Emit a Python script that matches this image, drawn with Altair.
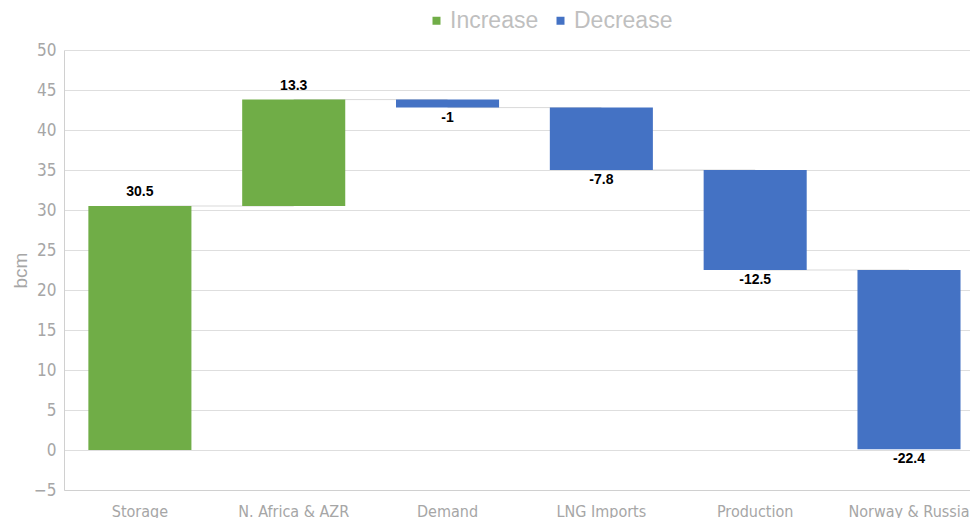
import altair as alt
import pandas as pd

categories = ["Storage", "N. Africa & AZR", "Demand", "LNG Imports", "Production", "Norway & Russia"]
changes = [30.5, 13.3, -1, -7.8, -12.5, -22.4]
labels = ["30.5", "13.3", "-1", "-7.8", "-12.5", "-22.4"]
yticks = [-5, 0, 5, 10, 15, 20, 25, 30, 35, 40, 45, 50]

rows = []
total = 0.0
for i, (c, v, l) in enumerate(zip(categories, changes, labels)):
    start = total
    total = round(total + v, 2)
    rows.append({
        "cat": c, "start": start, "end": total, "label": l,
        "kind": "Increase" if v >= 0 else "Decrease",
        "next": categories[i + 1] if i + 1 < len(categories) else None,
    })
df = pd.DataFrame(rows)

GRAY = "#a6a6a6"
FONT_AX = "DejaVu Sans Condensed, Liberation Sans"
xscale = alt.Scale(domain=categories, paddingInner=0.33, paddingOuter=0.11, align=0.72)
yscale = alt.Scale(domain=[-5, 50], nice=False)
xaxis = alt.Axis(labelAngle=0, labelColor=GRAY, labelFontSize=16,
                 labelFont=FONT_AX, labelOverlap=False, labelAlign="center", bandPosition=0.5,
                 ticks=False, domainColor="#d0d0d0", labelPadding=13, grid=False)
yaxis = alt.Axis(values=yticks, labelColor=GRAY, labelFontSize=17,
                 labelFont=FONT_AX, labelOverlap=False,
                 ticks=False, domainColor="#d0d0d0", gridColor="#dedede",
                 titleColor=GRAY, titleFontSize=19, titleFontWeight="normal",
                 titleFont="Liberation Sans, Arial", labelPadding=8,
                 titleX=-34, titleY=220, titleAngle=-90, titleAlign="center",
                 titleBaseline="bottom")

X = alt.X("cat:N", title=None, scale=xscale, axis=xaxis)

base = alt.Chart(df)

bars = base.mark_bar().encode(
    x=X,
    y=alt.Y("start:Q", title="bcm", scale=yscale, axis=yaxis),
    y2="end:Q",
    color=alt.Color("kind:N", scale=alt.Scale(domain=["Increase", "Decrease"], range=["#70AD47", "#4472C4"]),
                    legend=alt.Legend(title=None, orient="none", legendX=361, legendY=-41,
                                      direction="horizontal", symbolType="square", symbolSize=64,
                                      symbolStrokeWidth=0, labelFontSize=23, labelColor="#bfbfbf",
                                      labelFont="Liberation Sans, Arial", columnPadding=10,
                                      labelOffset=2)),
)

conn = base.transform_filter("datum.next != null").mark_rule(color="#d9d9d9", strokeWidth=1).encode(
    x=X,
    x2="next:N",
    y=alt.Y("end:Q", title="bcm", scale=yscale, axis=yaxis),
)

txt_up = base.transform_filter("datum.kind == 'Increase'").mark_text(
    baseline="bottom", dy=-7, fontWeight="bold", fontSize=14, font="Liberation Sans, Arial", color="#000000"
).encode(x=X, y=alt.Y("end:Q", title="bcm", scale=yscale, axis=yaxis), text="label:N")

txt_dn = base.transform_filter("datum.kind == 'Decrease'").mark_text(
    baseline="top", dy=3, fontWeight="bold", fontSize=14, font="Liberation Sans, Arial", color="#000000"
).encode(x=X, y=alt.Y("end:Q", title="bcm", scale=yscale, axis=yaxis), text="label:N")

chart = alt.layer(conn, bars, txt_up, txt_dn).properties(
    width=906, height=440,
    autosize=alt.AutoSizeParams(type="none"),
    padding={"left": 56, "top": 42, "right": 0, "bottom": 28},
).configure_view(stroke=None)

chart.save("out.html", embed_options={"renderer": "svg", "actions": False})
